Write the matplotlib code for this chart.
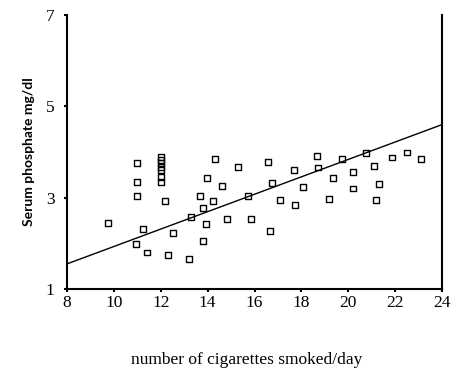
import numpy as np
import matplotlib
matplotlib.use('Agg')
import matplotlib.pyplot as plt

# cigarettes/day and serum phosphate
cigs = [9.76, 11.0, 11.0, 11.0, 10.94, 11.26, 11.43,
        12.0, 12.0, 12.0, 12.0, 12.0, 12.0, 12.0,
        12.19, 12.54, 12.32, 13.22, 13.29, 13.67, 13.79, 13.82, 13.92,
        13.99, 14.24, 14.30, 14.6, 14.81, 15.31, 15.71, 15.85,
        16.59, 16.75, 16.65, 17.09, 17.7, 17.73, 18.08, 18.65, 18.72,
        19.18, 19.33, 19.72, 20.19, 20.22, 20.76, 21.11, 21.18, 21.32,
        21.88, 22.49, 23.1]
phos = [2.44, 3.75, 3.34, 3.04, 1.99, 2.31, 1.80,
        3.90, 3.82, 3.75, 3.68, 3.61, 3.46, 3.34,
        2.93, 2.23, 1.74, 1.66, 2.58, 3.04, 2.77, 2.05, 2.42,
        3.44, 2.92, 3.85, 3.26, 2.53, 3.68, 3.04, 2.53,
        3.79, 3.33, 2.27, 2.95, 3.61, 2.84, 3.24, 3.92, 3.66,
        2.97, 3.44, 3.84, 3.57, 3.20, 3.98, 3.69, 2.95, 3.30,
        3.88, 3.99, 3.85]

# fitted line end points
fit_x = [8, 24]
fit_y = [1.55, 4.6]

xticks = [8, 10, 12, 14, 16, 18, 20, 22, 24]
yticks = [1, 3, 5, 7]

fig = plt.figure(figsize=(4.74, 3.77), dpi=100)
ax = fig.add_axes([0.1414, 0.2334, 0.7911, 0.7268])

ax.plot(fit_x, fit_y, color='black', linewidth=1)
ax.scatter(cigs, phos, marker='s', s=18, facecolors='none',
           edgecolors='black', linewidths=1, zorder=3)

ax.set_xlim(8, 24)
ax.set_ylim(1, 7)
ax.set_xticks(xticks)
ax.set_yticks(yticks)
ax.spines['top'].set_visible(False)
for s in ['left', 'right', 'bottom']:
    ax.spines[s].set_linewidth(1.5)

ax.tick_params(axis='both', length=2, width=1.5, direction='out')
ax.tick_params(axis='y', pad=7)
ax.tick_params(axis='x', pad=2)
for lab in ax.get_xticklabels() + ax.get_yticklabels():
    lab.set_fontfamily('Liberation Serif')
    lab.set_fontsize(12.5)

ax.set_xlabel('number of cigarettes smoked/day', family='Liberation Serif',
              fontsize=12.5)
ax.xaxis.set_label_coords(0.48, -0.23)
ax.set_ylabel('Serum phosphate mg/dl', family='Lato', fontweight='bold',
              fontsize=10, labelpad=8)

fig.savefig('out.png', dpi=100)
